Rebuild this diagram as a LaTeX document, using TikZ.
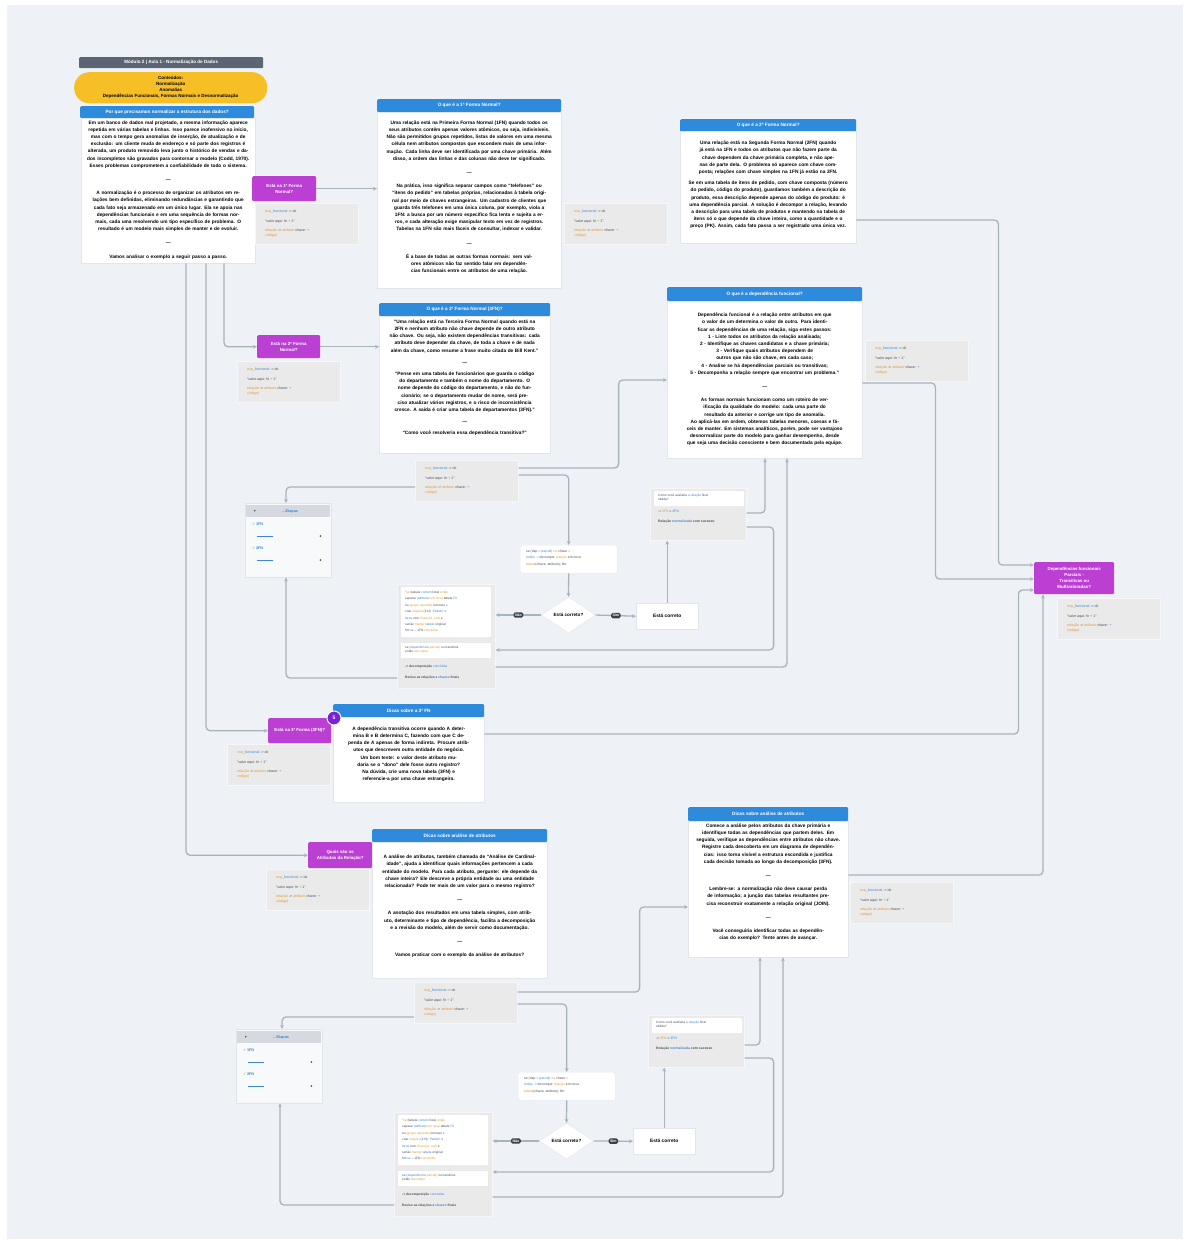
\documentclass[tikz,border=0pt]{standalone}
\usepackage{fontspec}
\setmainfont{Liberation Sans}
\newfontfamily\dejavu{DejaVu Sans}
\usetikzlibrary{shapes.geometric,arrows.meta,calc}
\definecolor{bgc}{HTML}{EEF2F6}
\definecolor{hdrc}{HTML}{5B6573}
\definecolor{yel}{HTML}{F6BF26}
\definecolor{blu}{HTML}{2E8ADB}
\definecolor{pur}{HTML}{BB3FD3}
\definecolor{badge}{HTML}{7B22D8}
\definecolor{notec}{HTML}{EAEAEA}
\definecolor{notel}{HTML}{F6F6F6}
\definecolor{cardl}{HTML}{E2E6EB}
\definecolor{linec}{HTML}{A9B3BD}
\definecolor{orng}{HTML}{E39A32}
\definecolor{cblu}{HTML}{3C87D4}
\definecolor{dk}{HTML}{4A4F57}
\definecolor{grn}{HTML}{5DAA4A}
\definecolor{chkh}{HTML}{D6DAE0}
\definecolor{chkbg}{HTML}{F7F9FB}
\definecolor{pill}{HTML}{39424C}
\tikzset{
 sz/.style 2 args={minimum width=#1,minimum height=#2},
 card/.style={anchor=north west, fill=white, draw=cardl, line width=0.4pt, inner sep=0},
 ttl/.style={anchor=north west, fill=blu, inner sep=0, text=white, font=\fontsize{4.7}{5}\selectfont\bfseries, rounded corners=1.2pt},
 body/.style={anchor=north, align=center, inner sep=0, font=\fontsize{4.8}{7.2}\selectfont\bfseries},
 purp/.style={anchor=north west, fill=pur, inner sep=0, text=white, align=center, font=\fontsize{4.4}{5.9}\selectfont\bfseries, rounded corners=1.2pt},
 note/.style={anchor=north west, fill=notec, draw=notel, line width=0.6pt, inner sep=0},
 ntxt/.style={anchor=north west, align=left, inner sep=0, font=\fontsize{3.6}{4.4}\selectfont},
 conn/.style={draw=linec, line width=1.3pt, rounded corners=4pt},
 arr/.style={conn, -{Stealth[length=4pt,width=3.8pt]}},
 lab/.style={fill=pill, text=white, rounded corners=1.5pt, inner sep=1.4pt, font=\fontsize{3.6}{3.6}\selectfont\bfseries},
}
\newcommand\sep{\\[7pt]—\\[6pt]}
\newcommand\notelines{{\color{orng}exp}{\color{cblu}\_funcional} {\color{dk}-> ok}\\[5pt]
{\color{dk}"valor aqui: fn} {\color{grn}+} {\color{dk}1"}\\[5pt]
{\color{orng}relação} {\color{dk}->} {\color{orng}atributo} {\color{dk}chave:} {\color{cblu}+}\\
{\color{orng}código)}}
\newcommand\notebox[3]{%
 \node[note, sz={103pt}{41pt}] (#1) at (#2,#3) {};
 \node[ntxt] (#1t) at ([xshift=10pt,yshift=-7pt]#1.north west) {\notelines};
}
\newcommand\checklist[3]{%
 \node[card, fill=chkbg, sz={86pt}{74pt}] (#1) at (#2,#3) {};
 \node[anchor=north west, fill=chkh, inner sep=0, sz={84pt}{12pt}] (#1h) at ([xshift=1pt,yshift=-2pt]#1.north west) {};
 \node[inner sep=0, text=dk, font=\dejavu\fontsize{4}{4}\selectfont] (#1v) at ([xshift=9pt]#1h.west) {▾};
 \node[inner sep=0, text=cblu, font=\fontsize{3.8}{4}\selectfont\bfseries] (#1n) at ([xshift=2pt]#1h.center) {...Etapas};
 \node[anchor=west, inner sep=0, text=cblu, font=\fontsize{3.8}{4}\selectfont\bfseries] (#1r) at ([xshift=7pt,yshift=-21pt]#1.north west) {{\dejavu\color{grn}✓}\,1FN};
 \node[anchor=west, inner sep=0, text=cblu, font=\fontsize{3.8}{4}\selectfont\bfseries] (#1s) at ([xshift=7pt,yshift=-45pt]#1.north west) {{\dejavu\color{grn}✓}\,2FN};
 \draw[cblu, line width=1pt] ([xshift=12pt,yshift=-33pt]#1.north west) -- ++(16,0);
 \draw[cblu, line width=1pt] ([xshift=12pt,yshift=-57pt]#1.north west) -- ++(16,0);
 \node[circle, fill=dk, inner sep=0, minimum size=1.8pt] (#1d) at ([xshift=-11pt,yshift=-33pt]#1.north east) {};
 \node[circle, fill=dk, inner sep=0, minimum size=1.8pt] (#1e) at ([xshift=-11pt,yshift=-57pt]#1.north east) {};
}
\newcommand\codeA{{\color{dk}se (dep} {\color{cblu}= parcial)} {\color{orng}ou} {\color{dk}chave} {\color{orng}x}\\[2.5pt]{\color{cblu}então ->} {\color{dk}decompor} {\color{orng}relação} {\color{dk}em nova}\\[2.5pt]{\color{orng}tabela}{\color{dk}(chave, atributo); fim}}
\newcommand\codesmall[3]{%
 \node[card, sz={97pt}{28pt}, rounded corners=1.5pt] (#1) at (#2,#3) {};
 \node[ntxt, font=\fontsize{3.4}{4}\selectfont] (#1t) at ([xshift=6pt,yshift=-4.5pt]#1.north west) {\codeA};
}
\newcommand\codeB{%
{\color{dk}"}{\color{orng}se} {\color{dk}(tabela} {\color{cblu}contém} {\color{dk}lista)} {\color{orng}então}\\
{\color{dk}separar} {\color{cblu}(atributo)} {\color{orng}em nova} {\color{dk}tabela} {\color{cblu}FK}\\
{\color{dk}ou} {\color{orng}(grupo repetido)} {\color{dk}remover} {\color{cblu}e}\\
{\color{dk}criar} {\color{orng}relação} {\color{dk}(1:N)} {\color{cblu}"Pedido"} {\color{dk}x}\\
{\color{cblu}Itens} {\color{dk}com} {\color{orng}chave(id, cod)} {\color{dk}e}\\
{\color{dk}senão} {\color{orng}manter} {\color{cblu}tabela} {\color{dk}original;}\\
{\color{dk}fim} {\color{cblu}se} {\color{dk}-- 1FN} {\color{orng}concluída}}
\newcommand\codeC{{\color{dk}se} {\color{cblu}(dependência} {\color{orng}parcial)} {\color{dk}ou transitiva}\\{\color{dk}então} {\color{orng}decompor}}
\newcommand\codeD{{\color{dk}\bfseries -> decomposição} {\color{cblu}concluída}}
\newcommand\codeE{{\color{dk}\bfseries Revise as relações e} {\color{cblu}\bfseries chaves} {\color{dk}\bfseries finais}}
\newcommand\bigcode[4]{%
 \node[note, sz={98pt}{#4}] (#1) at (#2,#3) {};
 \node[anchor=north west, fill=white, inner sep=0, sz={90pt}{50pt}, rounded corners=1pt] (#1a) at ([xshift=4pt,yshift=-3pt]#1.north west) {};
 \node[ntxt, font=\fontsize{3.2}{6.4}\selectfont] (#1at) at ([xshift=4pt,yshift=-4pt]#1a.north west) {\codeB};
 \node[anchor=north west, fill=white, inner sep=0, sz={90pt}{15pt}] (#1b) at ([xshift=4pt,yshift=-59pt]#1.north west) {};
 \node[ntxt, font=\fontsize{3.2}{4.4}\selectfont] (#1bt) at ([xshift=4pt,yshift=-3pt]#1b.north west) {\codeC};
 \node[ntxt, font=\fontsize{3.3}{4}\selectfont] (#1c) at ([xshift=8pt,yshift=-81pt]#1.north west) {\codeD};
 \node[ntxt, font=\fontsize{3.3}{4}\selectfont] (#1d) at ([xshift=8pt,yshift=-92pt]#1.north west) {\codeE};
}
\newcommand\codeF{{\color{dk}Como você avaliaria} {\color{cblu}a relação} {\color{dk}final}\\{\color{dk}obtida?}}
\newcommand\codeG{{\color{dk}->} {\color{orng}2FN} {\color{cblu}e 3FN}}
\newcommand\codeH{{\color{dk}\bfseries Relação} {\color{cblu}\bfseries normalizada} {\color{dk}\bfseries com sucesso}}
\newcommand\ansbox[3]{%
 \node[note, sz={96pt}{52pt}] (#1) at (#2,#3) {};
 \node[anchor=north west, fill=white, inner sep=0, sz={90pt}{15pt}, rounded corners=1pt] (#1a) at ([xshift=4pt,yshift=-3pt]#1.north west) {};
 \node[ntxt, font=\fontsize{3.2}{4.4}\selectfont] (#1at) at ([xshift=4pt,yshift=-3pt]#1a.north west) {\codeF};
 \node[ntxt, font=\fontsize{3.4}{4}\selectfont] (#1b) at ([xshift=8pt,yshift=-22pt]#1.north west) {\codeG};
 \node[ntxt, font=\fontsize{3.4}{4}\selectfont] (#1c) at ([xshift=8pt,yshift=-32pt]#1.north west) {\codeH};
}
\begin{document}
\begin{tikzpicture}[x=1pt,y=-1pt]
\path[use as bounding box, fill=white] (0,0) rectangle (1188,1243);
\fill[bgc] (7,5) rectangle (1183,1239);

% ---------- header ----------
\node[anchor=north west, fill=hdrc, inner sep=0, sz={184pt}{11pt}, text=white, font=\fontsize{4.6}{5}\selectfont\bfseries, rounded corners=1pt] (hdr) at (79,57) {Módulo 2 | Aula 1 - Normalização de Dados};
\node[anchor=north west, fill=yel, inner sep=0, sz={193pt}{31pt}, rounded corners=15pt, align=center, font=\fontsize{4.5}{6}\selectfont\bfseries] (goal) at (74,72) {Conteúdos:\\Normalização\\Anomalias\\Dependências Funcionais, Formas Normais e Desnormalização};

% ---------- box 1 ----------
\node[ttl, sz={174pt}{12pt}] (t1) at (80,106) {Por que precisamos normalizar a estrutura dos dados?};
\node[card, sz={174pt}{145pt}] (c1) at (81,118) {};
\node[body, text width=163pt] (c1t) at ([yshift=-2.5pt]c1.north) {Em um banco de dados mal projetado, a mesma informação aparece repetida em várias tabelas e linhas. Isso parece inofensivo no início, mas com o tempo gera anomalias de inserção, de atualização e de exclusão: um cliente muda de endereço e só parte dos registros é alterada, um produto removido leva junto o histórico de vendas e dados incompletos são gravados para contornar o modelo (Codd, 1970). Esses problemas comprometem a confiabilidade de todo o sistema.\sep A normalização é o processo de organizar os atributos em relações bem definidas, eliminando redundâncias e garantindo que cada fato seja armazenado em um único lugar. Ela se apoia nas dependências funcionais e em uma sequência de formas normais, cada uma resolvendo um tipo específico de problema. O resultado é um modelo mais simples de manter e de evoluir.\sep Vamos analisar o exemplo a seguir passo a passo.};

\node[purp, sz={64pt}{25pt}] (p1) at (252,176) {Está na 1ª Forma\\Normal?};
\notebox{n1}{255}{203}

% ---------- box 2 ----------
\node[ttl, sz={184pt}{13pt}] (t2) at (377,99) {O que é a 1ª Forma Normal?};
\node[card, sz={184pt}{176pt}] (c2) at (377,112) {};
\node[body, text width=170pt] (c2t) at ([yshift=-8.5pt]c2.north) {Uma relação está na Primeira Forma Normal (1FN) quando todos os seus atributos contêm apenas valores atômicos, ou seja, indivisíveis. Não são permitidos grupos repetidos, listas de valores em uma mesma célula nem atributos compostos que escondem mais de uma informação. Cada linha deve ser identificada por uma chave primária. Além disso, a ordem das linhas e das colunas não deve ter significado.\sep Na prática, isso significa separar campos como “telefones” ou “itens do pedido” em tabelas próprias, relacionadas à tabela original por meio de chaves estrangeiras. Um cadastro de clientes que guarda três telefones em uma única coluna, por exemplo, viola a 1FN: a busca por um número específico fica lenta e sujeita a erros, e cada alteração exige manipular texto em vez de registros. Tabelas na 1FN são mais fáceis de consultar, indexar e validar.\sep É a base de todas as outras formas normais: sem valores atômicos não faz sentido falar em dependências funcionais entre os atributos de uma relação.};
\notebox{n2}{564}{203}

% ---------- box 3 ----------
\node[ttl, sz={176pt}{13pt}] (t3) at (680,119) {O que é a 2ª Forma Normal?};
\node[card, sz={176pt}{112pt}] (c3) at (680,131) {};
\node[body, text width=166pt] (c3t) at ([yshift=-10pt]c3.north) {Uma relação está na Segunda Forma Normal (2FN) quando já está na 1FN e todos os atributos que não fazem parte da chave dependem da chave primária completa, e não apenas de parte dela. O problema só aparece com chave composta; relações com chave simples na 1FN já estão na 2FN.\\[4pt]Se em uma tabela de itens de pedido, com chave composta (número do pedido, código do produto), guardamos também a descrição do produto, essa descrição depende apenas do código do produto: é uma dependência parcial. A solução é decompor a relação, levando a descrição para uma tabela de produtos e mantendo na tabela de itens só o que depende da chave inteira, como a quantidade e o preço (PK). Assim, cada fato passa a ser registrado uma única vez.};

% ---------- box 4 ----------
\node[purp, sz={63pt}{23pt}] (p2) at (257,335) {Está na 2ª Forma\\Normal?};
\notebox{n3}{237}{361}
\node[ttl, sz={171pt}{13pt}] (t4) at (379,303) {O que é a 3ª Forma Normal (3FN)?};
\node[card, sz={171pt}{137pt}] (c4) at (379,316) {};
\node[body, text width=160pt] (c4t) at ([yshift=-3.5pt]c4.north) {“Uma relação está na Terceira Forma Normal quando está na 2FN e nenhum atributo não chave depende de outro atributo não chave. Ou seja, não existem dependências transitivas: cada atributo deve depender da chave, de toda a chave e de nada além da chave, como resume a frase muito citada de Bill Kent.”\\[5pt]—\\[4pt]“Pense em uma tabela de funcionários que guarda o código do departamento e também o nome do departamento. O nome depende do código do departamento, e não do funcionário; se o departamento mudar de nome, será preciso atualizar vários registros, e o risco de inconsistência cresce. A saída é criar uma tabela de departamentos (3FN).”\\[5pt]—\\[4pt]“Como você resolveria essa dependência transitiva?”};
\notebox{n4}{415}{460}

% ---------- box 5 ----------
\node[ttl, sz={195pt}{14pt}] (t5) at (667,287) {O que é a dependência funcional?};
\node[card, sz={195pt}{157pt}] (c5) at (667,301) {};
\node[body, text width=182pt] (c5t) at ([yshift=-12pt]c5.north) {Dependência funcional é a relação entre atributos em que o valor de um determina o valor de outro. Para identificar as dependências de uma relação, siga estes passos:\\1 - Liste todos os atributos da relação analisada;\\2 - Identifique as chaves candidatas e a chave primária;\\3 - Verifique quais atributos dependem de outros que não são chave, em cada caso;\\4 - Analise se há dependências parciais ou transitivas;\\5 - Decomponha a relação sempre que encontrar um problema.”\sep As formas normais funcionam como um roteiro de verificação da qualidade do modelo: cada uma parte do resultado da anterior e corrige um tipo de anomalia.\\Ao aplicá-las em ordem, obtemos tabelas menores, coesas e fáceis de manter. Em sistemas analíticos, porém, pode ser vantajoso desnormalizar parte do modelo para ganhar desempenho, desde que seja uma decisão consciente e bem documentada pela equipe.};
\notebox{n5}{865}{340}

% ---------- final purple ----------
\node[purp, sz={80pt}{32pt}] (pe) at (1034,562) {Dependências funcionais\\Parciais -\\Transitivas ou\\Multivaloradas?};
\notebox{n6}{1057}{598}

% ---------- loop 1 ----------
\checklist{chk1}{245}{503}
\codesmall{code1}{520}{545}
\node[diamond, fill=white, draw=cardl, line width=0.4pt, minimum width=54pt, minimum height=36pt, inner sep=0, aspect=1.5, font=\fontsize{4.6}{5}\selectfont\bfseries] (dia1) at (568.5,615) {Está correto?};
\node[card, sz={62pt}{26pt}, font=\fontsize{4.8}{5}\selectfont\bfseries] (ok1) at (636,603) {Está correto};
\ansbox{ans1}{650}{488}
\bigcode{big1}{397}{584}{104pt}

% ---------- box 6 ----------
\node[purp, sz={63pt}{25pt}] (p3) at (268,718) {Está na 3ª Forma (3FN)?};
\notebox{n7}{227}{744}
\node[ttl, sz={151pt}{13pt}] (t6) at (333,704) {Dicas sobre a 3ª FN};
\node[card, sz={151pt}{85pt}] (c6) at (333,717) {};
\node[body, text width=142pt] (c6t) at ([yshift=-9.5pt]c6.north) {A dependência transitiva ocorre quando A determina B e B determina C, fazendo com que C dependa de A apenas de forma indireta. Procure atributos que descrevem outra entidade do negócio.\\Um bom teste: o valor deste atributo mudaria se o “dono” dele fosse outro registro?\\Na dúvida, crie uma nova tabela (3FN) e referencie-a por uma chave estrangeira.};
\node[circle, fill=badge, draw=white, line width=1pt, minimum size=14pt, inner sep=0, text=white, font=\fontsize{5}{5}\selectfont\bfseries] (bdg) at (334,718) {5};

% ---------- box 7 ----------
\node[purp, sz={64pt}{26pt}] (p4) at (308,842) {Quais são os\\Atributos da Relação?};
\notebox{n8}{266}{869}
\node[ttl, sz={175pt}{13pt}] (t7) at (372,829) {Dicas sobre análise de atributos};
\node[card, sz={175pt}{136pt}] (c7) at (372,842) {};
\node[body, text width=163pt] (c7t) at ([yshift=-13pt]c7.north) {A análise de atributos, também chamada de “Análise de Cardinalidade”, ajuda a identificar quais informações pertencem a cada entidade do modelo. Para cada atributo, pergunte: ele depende da chave inteira? Ele descreve a própria entidade ou uma entidade relacionada? Pode ter mais de um valor para o mesmo registro?\sep A anotação dos resultados em uma tabela simples, com atributo, determinante e tipo de dependência, facilita a decomposição e a revisão do modelo, além de servir como documentação.\sep Vamos praticar com o exemplo da análise de atributos?};
\notebox{n9}{414}{982}

% ---------- box 8 ----------
\node[ttl, sz={160pt}{14pt}] (t8) at (688,807) {Dicas sobre análise de atributos};
\node[card, sz={160pt}{136pt}] (c8) at (688,821) {};
\node[body, text width=151pt] (c8t) at ([yshift=-2.5pt]c8.north) {Comece a análise pelos atributos da chave primária e identifique todas as dependências que partem deles. Em seguida, verifique as dependências entre atributos não chave. Registre cada descoberta em um diagrama de dependências: isso torna visível a estrutura escondida e justifica cada decisão tomada ao longo da decomposição (3FN).\sep Lembre-se: a normalização não deve causar perda de informação; a junção das tabelas resultantes precisa reconstruir exatamente a relação original (JOIN).\sep Você conseguiria identificar todas as dependências do exemplo? Tente antes de avançar.};
\notebox{n10}{850}{882}

% ---------- loop 2 ----------
\checklist{chk2}{236}{1029}
\codesmall{code2}{518}{1072}
\node[diamond, fill=white, draw=cardl, line width=0.4pt, minimum width=54pt, minimum height=36pt, inner sep=0, aspect=1.5, font=\fontsize{4.6}{5}\selectfont\bfseries] (dia2) at (566.5,1141) {Está correto?};
\node[card, sz={62pt}{26pt}, font=\fontsize{4.8}{5}\selectfont\bfseries] (ok2) at (633,1128) {Está correto};
\ansbox{ans2}{648}{1015}
\bigcode{big2}{394}{1112}{104pt}

% ---------- connectors ----------
\draw[arr] ([xshift=143pt]c1.south west) |- (p2.west);
\draw[arr] ([xshift=125pt]c1.south west) |- (p3.west);
\draw[arr] ([xshift=105pt]c1.south west) |- (p4.west);
\draw[arr] (p1.east) -- (p1.east -| c2.west);
\draw[arr] (p2.east) -- (p2.east -| c4.west);
\draw[arr] ([yshift=-89pt]c3.north east) -- ++(142,0) |- ([yshift=-3pt]pe.north west);
\draw[arr] ([yshift=-82pt]c5.north east) -- ++(73,0) |- ([yshift=-17pt]pe.north west);
\draw[arr] ([yshift=-17pt]c6.north east) -- ++(534,0) |- ([yshift=-28pt]pe.north west);
\draw[arr] ([yshift=-54pt]c8.north east) -| ([xshift=9pt]pe.south west);

\draw[arr] ([yshift=-8pt]n4.north east) -- ++(100,0) |- ([yshift=-79pt]c5.north west);
\draw[arr] ([yshift=-15pt]n4.north east) -| (code1.north);
\draw[arr] ([yshift=-27pt]n4.north west) -| ([xshift=41pt]chk1.north west);
\draw[arr] (code1.south) -- (dia1.north);
\draw[arr] (dia1.west) -- (dia1.west -| big1.east) node[lab, midway] (no1) {Não};
\draw[arr] (dia1.east) -- (ok1.west) node[lab, midway] (yes1) {Sim};
\draw[arr] (ok1.north) -- (ok1.north |- ans1.south);
\draw[arr] ([yshift=-25pt]ans1.north east) -| ([xshift=98pt]c5.south west);
\draw[arr] ([yshift=-39pt]ans1.north east) -- ++(27,0) |- ([yshift=-66pt]big1.north east);
\draw[arr] ([yshift=-83pt]big1.north east) -| ([xshift=120pt]c5.south west);
\draw[arr] ([yshift=-94pt]big1.north west) -| ([xshift=41pt]chk1.south west);

\draw[arr] ([yshift=-10pt]n9.north east) -- ++(122,0) |- ([yshift=-86pt]c8.north west);
\draw[arr] ([yshift=-22pt]n9.north east) -| (code2.north);
\draw[arr] ([yshift=-35pt]n9.north west) -| ([xshift=46pt]chk2.north west);
\draw[arr] (code2.south) -- (dia2.north);
\draw[arr] (dia2.west) -- (dia2.west -| big2.east) node[lab, midway] (no2) {Não};
\draw[arr] (dia2.east) -- (ok2.west) node[lab, midway] (yes2) {Sim};
\draw[arr] (ok2.north) -- (ok2.north |- ans2.south);
\draw[arr] ([yshift=-30pt]ans2.north east) -| ([xshift=72pt]c8.south west);
\draw[arr] ([yshift=-43pt]ans2.north east) -- ++(29,0) |- ([yshift=-60pt]big2.north east);
\draw[arr] ([yshift=-85pt]big2.north east) -| ([xshift=95pt]c8.south west);
\draw[arr] ([yshift=-93pt]big2.north west) -| ([xshift=44pt]chk2.south west);
\end{tikzpicture}
\end{document}
